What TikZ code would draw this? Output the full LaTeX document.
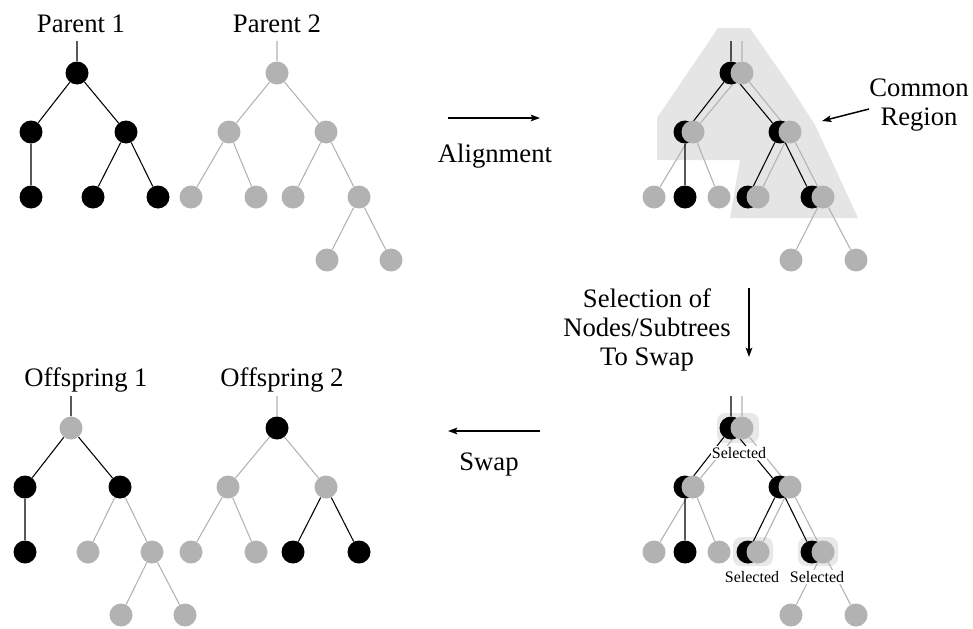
\documentclass[tikz,border=0pt]{standalone}
\usepackage{fontspec}
\setmainfont{Liberation Serif}
\usetikzlibrary{arrows.meta}
\newcommand{\overlaytree}[2]{%
  \coordinate (#1b0) at (731,{41+#2});
  \coordinate (#1g0) at (742,{41+#2});
  % black tree
  \node[bn] (#1b1) at (731,{73+#2}) {};
  \node[bn] (#1b2) at (685,{132+#2}) {};
  \node[bn] (#1b3) at (780,{132+#2}) {};
  \node[bn] (#1b4) at (685,{197+#2}) {};
  \node[bn] (#1b5) at (748,{197+#2}) {};
  \node[bn] (#1b6) at (812,{197+#2}) {};
  % gray tree
  \node[gn] (#1g1) at (742,{73+#2}) {};
  \node[gn] (#1g2) at (693,{132+#2}) {};
  \node[gn] (#1g3) at (790,{132+#2}) {};
  \node[gn] (#1g4) at (654,{197+#2}) {};
  \node[gn] (#1g5) at (719,{197+#2}) {};
  \node[gn] (#1g6) at (758,{197+#2}) {};
  \node[gn] (#1g7) at (823,{197+#2}) {};
  \node[gn] (#1g8) at (791,{260+#2}) {};
  \node[gn] (#1g9) at (856,{260+#2}) {};
}
\newcommand{\overlayedges}[1]{%
  \draw[gl] (#1g0) -- (#1g1) (#1g1) -- (#1g2) (#1g1) -- (#1g3)
            (#1g2) -- (#1g4) (#1g2) -- (#1g5) (#1g3) -- (#1g6)
            (#1g3) -- (#1g7) (#1g7) -- (#1g8) (#1g7) -- (#1g9);
  \draw[bl] (#1b0) -- (#1b1) (#1b1) -- (#1b2) (#1b1) -- (#1b3)
            (#1b2) -- (#1b4) (#1b3) -- (#1b5) (#1b3) -- (#1b6);
}
\usetikzlibrary{backgrounds}
\pgfdeclarelayer{edges}
\pgfsetlayers{background,edges,main}
\begin{document}
\begin{tikzpicture}[x=0.75pt,y=-0.75pt,
  bn/.style={circle,fill=black,minimum size=17.25pt,inner sep=0pt},
  gn/.style={circle,fill=gray!60,minimum size=17.25pt,inner sep=0pt},
  bl/.style={draw=black,line width=0.8pt},
  gl/.style={draw=gray!60,line width=0.8pt},
  lbl/.style={font=\fontsize{20}{22}\selectfont,inner sep=0pt},
  sel/.style={font=\fontsize{12}{13}\selectfont,fill=white,inner sep=0.8pt},
  selbox/.style={fill=gray!18,rounded corners=6pt},
  arr/.style={line width=1.1pt,-{Stealth[length=7pt,width=5pt,inset=1.5pt]}}
]
\useasboundingbox (0,0) rectangle (973,628);

% ---------- Parent 1 ----------
\node[lbl,anchor=base] (p1lab) at (81,32) {Parent 1};
\coordinate (a0) at (77,41);
\node[bn] (a1) at (77,73) {};
\node[bn] (a2) at (31,132) {};
\node[bn] (a3) at (126,132) {};
\node[bn] (a4) at (31,197) {};
\node[bn] (a5) at (93,197) {};
\node[bn] (a6) at (158,197) {};
\begin{pgfonlayer}{edges}
\draw[bl] (a0) -- (a1) (a1) -- (a2) (a1) -- (a3) (a2) -- (a4) (a3) -- (a5) (a3) -- (a6);
\end{pgfonlayer}

% ---------- Parent 2 ----------
\node[lbl,anchor=base] (p2lab) at (277,32) {Parent 2};
\coordinate (c0) at (277,41);
\node[gn] (c1) at (277,73) {};
\node[gn] (c2) at (229,132) {};
\node[gn] (c3) at (326,132) {};
\node[gn] (c4) at (191,197) {};
\node[gn] (c5) at (256,197) {};
\node[gn] (c6) at (293,197) {};
\node[gn] (c7) at (359,197) {};
\node[gn] (c8) at (327,260) {};
\node[gn] (c9) at (391,260) {};
\begin{pgfonlayer}{edges}
\draw[gl] (c0) -- (c1) (c1) -- (c2) (c1) -- (c3) (c2) -- (c4) (c2) -- (c5)
          (c3) -- (c6) (c3) -- (c7) (c7) -- (c8) (c7) -- (c9);
\end{pgfonlayer}

% ---------- Alignment arrow ----------
\coordinate (al1) at (448,118);
\coordinate (al2) at (540,118);
\draw[arr] (al1) -- (al2);
\node[lbl,anchor=base] (allab) at (495,162) {Alignment};

% ---------- Common region ----------
\begin{pgfonlayer}{background}
\fill[gray!20] (718,28) -- (750,28) -- (790,86) -- (815,125) -- (835,168) -- (858,218)
  -- (730,218) -- (740,160) -- (657,160) -- (657,118) -- cycle;
\end{pgfonlayer}
\overlaytree{t}{0}
\begin{pgfonlayer}{edges}
\overlayedges{t}
\end{pgfonlayer}
\node[lbl,align=center] (comlab) at (919,105) {Common\\Region};
\coordinate (cr1) at (869,109);
\coordinate (cr2) at (822,121);
\draw[arr] (cr1) -- (cr2);

% ---------- Selection arrow ----------
\node[lbl,align=center] (sellab) at (647,330) {Selection of\\Nodes/Subtrees\\To Swap};
\coordinate (s1) at (749,288);
\coordinate (s2) at (749,357);
\draw[arr] (s1) -- (s2);

% ---------- Selected tree ----------
\begin{pgfonlayer}{background}
\fill[selbox] (717,413) rectangle (759,443);
\fill[selbox] (733,537) rectangle (773,566);
\fill[selbox] (798,537) rectangle (838,566);
\end{pgfonlayer}
\overlaytree{s}{355}
\begin{pgfonlayer}{edges}
\overlayedges{s}
\end{pgfonlayer}
\node[sel] (sl1) at (739,453) {Selected};
\node[sel] (sl2) at (752,577) {Selected};
\node[sel] (sl3) at (817,577) {Selected};

% ---------- Swap arrow ----------
\coordinate (w1) at (540,431);
\coordinate (w2) at (448,431);
\draw[arr] (w1) -- (w2);
\node[lbl,anchor=base] (swlab) at (489,470) {Swap};

% ---------- Offspring 1 ----------
\node[lbl,anchor=base] (o1lab) at (86,386) {Offspring 1};
\coordinate (o0) at (71,396);
\node[gn] (o1) at (71,428) {};
\node[bn] (o2) at (25,487) {};
\node[bn] (o3) at (120,487) {};
\node[bn] (o4) at (25,552) {};
\node[gn] (o5) at (88,552) {};
\node[gn] (o6) at (152,552) {};
\node[gn] (o7) at (121,615) {};
\node[gn] (o8) at (185,615) {};
\begin{pgfonlayer}{edges}
\draw[bl] (o0) -- (o1) (o1) -- (o2) (o1) -- (o3) (o2) -- (o4);
\draw[gl] (o3) -- (o5) (o3) -- (o6) (o6) -- (o7) (o6) -- (o8);
\end{pgfonlayer}

% ---------- Offspring 2 ----------
\node[lbl,anchor=base] (o2lab) at (282,386) {Offspring 2};
\coordinate (q0) at (277,396);
\node[bn] (q1) at (277,428) {};
\node[gn] (q2) at (228,487) {};
\node[gn] (q3) at (326,487) {};
\node[gn] (q4) at (191,552) {};
\node[gn] (q5) at (256,552) {};
\node[bn] (q6) at (293,552) {};
\node[bn] (q7) at (359,552) {};
\begin{pgfonlayer}{edges}
\draw[gl] (q0) -- (q1) (q1) -- (q2) (q1) -- (q3) (q2) -- (q4) (q2) -- (q5);
\draw[bl] (q3) -- (q6) (q3) -- (q7);
\end{pgfonlayer}
\end{tikzpicture}
\end{document}
